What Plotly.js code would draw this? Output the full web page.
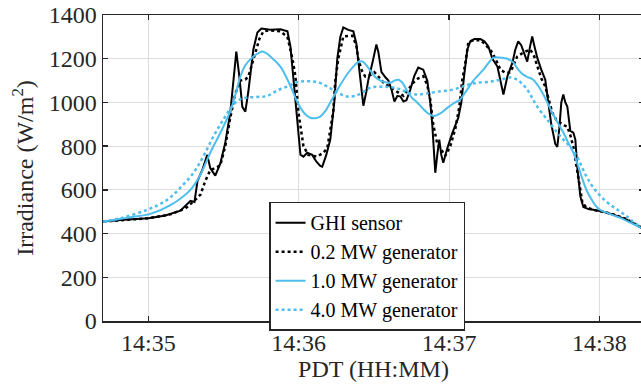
<!DOCTYPE html>
<html>
<head>
<meta charset="utf-8">
<script src="https://cdn.plot.ly/plotly-3.0.1.min.js"></script>
<style>
html,body{margin:0;padding:0;background:#fff;overflow:hidden;}
#chart{width:644px;height:391px;}
</style>
</head>
<body>
<div id="chart"></div>
<script>
// time in seconds after 14:35:00 PDT
const ghiT = [-18,-11.2,0,6.8,12.8,14.8,16.8,18.4,19.6,21.5,23.5,24.7,26.7,28.7,30.7,32.7,33.9,35.1,36.3,37.5,38.7,39.9,41.9,43.5,45.1,48.7,52.7,55.5,56.7,58.7,60.7,61.9,63.4,65.4,67.0,68.6,69.4,71.0,72.6,74.2,75.4,76.6,77.8,79.8,81.8,83.0,83.8,84.6,85.8,87.0,87.8,89.4,91.0,91.8,93.0,94.6,95.8,97.0,98.2,99.4,100.6,101.8,103.0,104.6,106.1,107.7,109.7,111.3,112.5,113.3,114.1,114.5,115.3,116.1,116.9,117.7,119.3,121.3,123.7,124.9,126.1,127.3,128.5,130.1,132.5,134.1,135.7,137.3,139.3,140.5,141.7,143.3,145.3,146.4,147.6,148.8,150.0,151.2,152.4,153.2,154.0,155.2,156.8,158.4,159.6,160.8,162.4,163.2,164.0,164.8,165.6,166.4,167.2,168.4,169.6,170.4,171.2,171.6,172.4,173.6,175.6,177.6,181.6,185.6,191.1,196.7,198.3];
const ghiV = [455,462,470,483,505,530,550,545,640,690,760,700,665,720,816,953,1100,1233,1120,980,958,1050,1242,1320,1338,1332,1335,1325,1256,1000,761,752,770,760,730,710,706,760,830,1000,1200,1300,1343,1332,1325,1270,1196,1104,985,1050,1104,1180,1265,1230,1140,1115,1100,1060,1004,1030,1027,1004,1010,1060,1120,1160,1150,1100,1000,900,760,678,760,830,760,724,790,860,930,1000,1130,1242,1280,1290,1290,1280,1256,1200,1164,1100,1036,1120,1182,1240,1279,1262,1220,1187,1260,1302,1260,1205,1150,1104,1000,900,810,797,880,1000,1036,1000,981,870,862,830,700,646,570,522,512,509,500,486,463,426,418];

const g02T = [-18,-7.2,0,8.8,14.8,18.8,20.8,22.7,24.7,26.7,28.7,30.7,32.7,34.7,36.7,38.7,39.9,41.5,42.7,44.3,45.9,48.7,52.7,55.5,57.5,58.7,59.9,61.9,63.8,67.4,69.8,71.4,72.6,73.8,74.6,75.8,77.8,81.4,83.0,83.8,85.4,86.6,88.6,90.2,91.8,93.8,95.8,97.8,99.8,101.8,103.8,105.7,107.7,109.7,111.3,112.5,113.7,115.3,116.9,118.5,120.5,122.5,124.1,125.3,126.5,127.7,129.7,132.5,134.1,136.1,137.3,138.9,140.5,142.5,144.5,146.1,147.2,149.6,152.4,154.0,155.2,156.8,158.4,160.0,161.2,162.8,164.4,166.0,167.2,168.4,169.6,170.8,171.6,172.4,173.2,174.8,177.6,181.6,185.6,191.1,196.7,198.3];
const g02V = [455,463,470,488,515,555,578,640,690,700,712,800,930,1040,1100,1105,1118,1180,1228,1290,1325,1330,1325,1300,1200,1120,953,800,760,752,770,790,875,960,1100,1200,1302,1305,1260,1196,1140,1118,1125,1138,1118,1091,1075,1059,1045,1030,1060,1090,1110,1120,1080,1013,900,810,784,755,800,880,980,1104,1180,1274,1285,1285,1270,1245,1228,1190,1150,1135,1137,1180,1210,1228,1242,1210,1164,1110,1073,1000,953,920,907,895,889,850,797,720,670,600,541,520,508,500,488,465,428,420];

const g10T = [-18,-7.2,0.8,8.8,16.8,20.8,24.7,28.7,32.7,35.1,36.7,38.7,41.9,44.3,45.5,47.1,48.7,52.7,56.7,59.1,60.7,62.7,64.6,66.6,68.6,70.6,72.6,74.6,76.6,79.4,81.8,83.8,85.4,87.0,88.6,90.6,92.6,94.6,96.6,98.2,99.8,101.4,103.4,105.3,107.3,109.3,111.3,113.7,116.5,119.3,121.7,124.5,127.3,129.7,131.7,133.7,135.7,137.7,140.5,143.3,145.7,147.6,149.6,151.6,153.6,155.6,157.2,159.2,161.2,163.2,165.6,167.6,169.6,171.6,173.2,175.2,177.2,179.2,181.2,183.2,185.6,188.4,192.3,196.7,198.3];
const g10V = [455,475,490,530,600,670,770,860,960,1050,1118,1170,1210,1228,1233,1225,1210,1164,1075,1010,975,945,930,928,935,960,1000,1040,1080,1130,1164,1185,1187,1170,1145,1115,1100,1092,1090,1100,1104,1090,1050,1020,1000,975,953,938,950,975,995,1015,1060,1100,1125,1150,1180,1205,1205,1200,1182,1150,1127,1115,1104,1075,1045,1000,953,910,862,815,770,706,650,590,550,518,503,495,483,472,450,426,418];

const g40T = [-18,-11.2,-0.4,7.6,12.8,18.0,21.9,25.9,29.9,33.9,36.7,39.5,43.5,47.5,51.5,55.5,59.5,63.4,67.4,71.4,75.4,79.4,82.6,85.4,88.6,92.6,96.6,100.6,103.4,107.3,110.5,115.3,121.7,127.3,131.3,136.5,140.5,144.5,147.2,149.2,151.2,153.2,155.2,159.2,163.2,165.6,168.4,171.2,173.6,176.4,179.2,182.4,185.6,188.4,191.1,193.9,196.7,198.3];
const g40V = [454,470,509,555,610,678,752,843,921,990,1015,1022,1025,1030,1055,1073,1093,1097,1093,1073,1045,1027,1030,1045,1068,1072,1070,1060,1045,1036,1040,1049,1059,1080,1090,1095,1104,1114,1104,1085,1059,1020,981,921,862,830,797,750,690,630,587,550,522,500,477,450,431,422];

const seriesNames = ['GHI sensor','0.2 MW generator','1.0 MW generator','4.0 MW generator'];
const tickSeconds = [0,60,120,180];
const tickLabels = ['14:35','14:36','14:37','14:38'];
const yTicks = [0,200,400,600,800,1000,1200,1400];

const BLUE = '#4DBEEE';
const FONT = 'Liberation Serif';
const AX = '#262626';

const traces = [
  {x: ghiT, y: ghiV, name: seriesNames[0], mode:'lines', line:{color:'#000000', width:2, dash:'solid'}},
  {x: g02T, y: g02V, name: seriesNames[1], mode:'lines', line:{color:'#000000', width:2.5, dash:'dot'}},
  {x: g10T, y: g10V, name: seriesNames[2], mode:'lines', line:{color:BLUE, width:2, dash:'solid', shape:'spline'}},
  {x: g40T, y: g40V, name: seriesNames[3], mode:'lines', line:{color:BLUE, width:2.5, dash:'dot', shape:'spline'}}
];

const layout = {
  width: 644, height: 391,
  margin: {l:103, r:0, t:15, b:70},
  paper_bgcolor:'#ffffff', plot_bgcolor:'#ffffff',
  font: {family: FONT, color: AX, size: 24},
  showlegend: true,
  legend: {
    x: 0.307, y: 0.39, xanchor:'left', yanchor:'top',
    bgcolor:'#ffffff', bordercolor: AX, borderwidth: 1.5,
    font: {family: FONT, size: 20, color:'#000000'},
    tracegroupgap: 0, itemwidth: 30
  },
  xaxis: {
    range: [-18.1, 197.8],
    tickmode:'array', tickvals: tickSeconds, ticktext: tickLabels,
    ticks:'inside', ticklen:5, tickwidth:1.5, tickcolor: AX,
    showline:true, linecolor: AX, linewidth:1.5, mirror:'ticks',
    showgrid:true, gridcolor:'#dedede', gridwidth:1,
    zeroline:false,
    tickfont: {family: FONT, size: 24, color: AX},
    title: {text:'PDT (HH:MM)', font:{family: FONT, size: 24, color: AX}, standoff: 0}
  },
  yaxis: {
    range: [0, 1400],
    tickmode:'array', tickvals: yTicks,
    ticks:'inside', ticklen:5, tickwidth:1.5, tickcolor: AX,
    showline:true, linecolor: AX, linewidth:1.5, mirror:'ticks',
    showgrid:true, gridcolor:'#dedede', gridwidth:1,
    zeroline:false,
    tickfont: {family: FONT, size: 24, color: AX},
    title: {text:'Irradiance (W/m<sup>2</sup>)', font:{family: FONT, size: 24, color: AX}, standoff: 8}
  }
};

Plotly.newPlot('chart', traces, layout, {displayModeBar:false, staticPlot:true});
</script>
</body>
</html>
